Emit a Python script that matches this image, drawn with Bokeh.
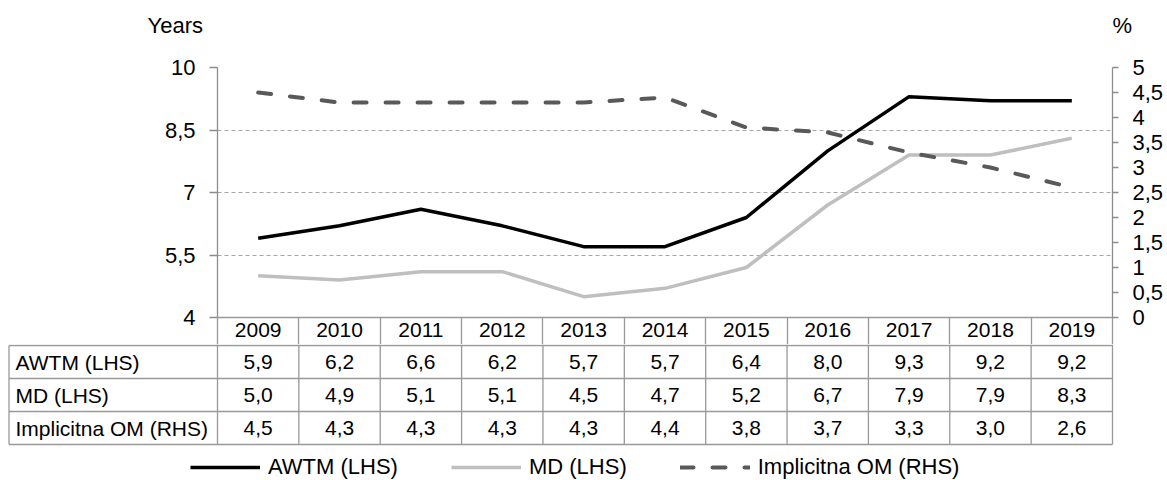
from bokeh.plotting import figure
from bokeh.models import Range1d, LinearAxis, FixedTicker, Legend, LegendItem
from bokeh.layouts import column
from bokeh.embed import file_html
from bokeh.resources import INLINE
from bokeh.core.properties import value

# ---------------- data ----------------
years = ["2009", "2010", "2011", "2012", "2013", "2014", "2015", "2016", "2017", "2018", "2019"]
awtm = [5.9, 6.2, 6.6, 6.2, 5.7, 5.7, 6.4, 8.0, 9.3, 9.2, 9.2]
md = [5.0, 4.9, 5.1, 5.1, 4.5, 4.7, 5.2, 6.7, 7.9, 7.9, 8.3]
om = [4.5, 4.3, 4.3, 4.3, 4.3, 4.4, 3.8, 3.7, 3.3, 3.0, 2.6]
series_names = ["AWTM (LHS)", "MD (LHS)", "Implicitna OM (RHS)"]
left_ticks = [4, 5.5, 7, 8.5, 10]
right_ticks = [0, 0.5, 1, 1.5, 2, 2.5, 3, 3.5, 4, 4.5, 5]
left_unit = "Years"
right_unit = "%"

# ---------------- style ----------------
FONT = "Liberation Sans"
AXIS_GRAY = "#8c8c8c"
GRID_GRAY = "#a6a6a6"
TABLE_GRAY = "#999999"
C_AWTM = "#000000"
C_MD = "#bfbfbf"
C_OM = "#595959"
OM_DASH = "13 19"
W = 1167
FRAME_L, FRAME_R = 217, 1112     # chart frame, page px


def comma(v, nd=None):
    s = f"{v:.{nd}f}" if nd is not None else f"{v:g}"
    return s.replace(".", ",")


idx = list(range(len(years)))

# ---------------- header (unit labels) ----------------
HDR_H = 53
hdr = figure(width=W, height=HDR_H, x_range=Range1d(0, W), y_range=Range1d(0, HDR_H),
             x_axis_type=None, y_axis_type=None, toolbar_location=None,
             output_backend="svg", min_border=0, outline_line_color=None, frame_align=False)
hdr.text(x=[147, FRAME_R], y=[HDR_H - 25, HDR_H - 25], text=[left_unit, right_unit],
         text_font=value(FONT), text_font_size="22px", text_baseline="middle",
         text_align="left", text_color="#000000")

# ---------------- chart ----------------
BOTTOM = 27
p1 = figure(width=W, height=291, x_range=Range1d(-0.5, len(years) - 0.5),
            y_range=Range1d(left_ticks[0], left_ticks[-1]),
            toolbar_location=None, output_backend="svg",
            min_border_left=FRAME_L, min_border_right=W - FRAME_R,
            min_border_top=14, min_border_bottom=BOTTOM,
            outline_line_color=None, frame_align=False)
p1.extra_y_ranges = {"pct": Range1d(right_ticks[0], right_ticks[-1])}

xa = p1.xaxis[0]
xa.ticker = FixedTicker(ticks=idx, minor_ticks=[i - 0.5 for i in range(len(years) + 1)])
xa.major_label_overrides = {i: y for i, y in zip(idx, years)}
xa.major_tick_out = 0
xa.major_tick_in = 0
xa.minor_tick_out = BOTTOM
xa.minor_tick_in = 0
xa.minor_tick_line_color = TABLE_GRAY
xa.minor_tick_line_width = 1.3
xa.axis_line_color = TABLE_GRAY
xa.axis_line_width = 1.3
xa.major_label_standoff = -BOTTOM + 5
xa.major_label_text_font = FONT
xa.major_label_text_font_size = "21px"
xa.major_label_text_color = "#000000"

ya = p1.yaxis[0]
ya.ticker = FixedTicker(ticks=left_ticks)
ya.major_label_overrides = {t: comma(t) for t in left_ticks}
ya.major_tick_out = 8
ya.major_tick_in = 0
ya.minor_tick_out = 0
ya.minor_tick_in = 0
ya.axis_line_color = AXIS_GRAY
ya.axis_line_width = 1.3
ya.major_tick_line_color = AXIS_GRAY
ya.major_tick_line_width = 1.3
ya.major_label_standoff = 14
ya.major_label_text_font = FONT
ya.major_label_text_font_size = "22px"
ya.major_label_text_color = "#000000"

ra = LinearAxis(y_range_name="pct", ticker=FixedTicker(ticks=right_ticks),
                major_label_standoff=14)
ra.major_label_overrides = {t: comma(t) for t in right_ticks}
ra.major_tick_out = 6
ra.major_tick_in = 0
ra.minor_tick_out = 0
ra.minor_tick_in = 0
ra.axis_line_color = AXIS_GRAY
ra.axis_line_width = 1.3
ra.major_tick_line_color = AXIS_GRAY
ra.major_tick_line_width = 1.3
ra.major_label_text_font = FONT
ra.major_label_text_font_size = "22px"
ra.major_label_text_color = "#000000"
ra.major_label_text_align = "left"
ra.major_label_text_baseline = "middle"
p1.add_layout(ra, "right")

p1.xgrid.visible = False
p1.ygrid.ticker = FixedTicker(ticks=left_ticks[1:])
p1.ygrid.grid_line_color = GRID_GRAY
p1.ygrid.grid_line_dash = "4 3"
p1.ygrid.grid_line_width = 1

p1.line(idx, md, line_color=C_MD, line_width=3.5, line_join="round")
p1.line(idx, awtm, line_color=C_AWTM, line_width=3.5, line_join="round")
p1.line(idx, om, y_range_name="pct", line_color=C_OM, line_width=4,
        line_dash=OM_DASH, line_cap="round", line_join="round")

# ---------------- table + legend ----------------
PPX = (FRAME_R - FRAME_L) / len(years)   # pixels per column
ROW = 33                                 # pixels per row
P2_H = 480 - HDR_H - 291


def xcol(page_x):
    return -0.5 + (page_x - FRAME_L) / PPX


x_start = xcol(0)
x_end = x_start + W / PPX
y_end = 1 / ROW
y_start = y_end - P2_H / ROW

p2 = figure(width=W, height=P2_H, x_range=Range1d(x_start, x_end), y_range=Range1d(y_start, y_end),
            x_axis_type=None, y_axis_type=None, toolbar_location=None,
            output_backend="svg", min_border=0, outline_line_color=None, frame_align=False)

rows = [awtm, md, om]
nrows = len(rows)
left_edge = xcol(8.5)
right_edge = len(years) - 0.5

hy = [-r for r in range(nrows + 1)]
p2.segment(x0=[left_edge] * len(hy), y0=hy, x1=[right_edge] * len(hy), y1=hy,
           line_color=TABLE_GRAY, line_width=1.3)
vx = [i - 0.5 for i in range(len(years) + 1)]
p2.segment(x0=vx, y0=[y_end] * len(vx), x1=vx, y1=[-nrows] * len(vx),
           line_color=TABLE_GRAY, line_width=1.3)
p2.segment(x0=[left_edge], y0=[0], x1=[left_edge], y1=[-nrows],
           line_color=TABLE_GRAY, line_width=1.3)

p2.text(x=[xcol(15)] * nrows, y=[-(r + 0.5) for r in range(nrows)], text=series_names,
        text_font=value(FONT), text_font_size="21px", text_baseline="middle",
        text_align="left", text_color="#000000")
cx, cy, ct = [], [], []
for r, vals in enumerate(rows):
    for i, v in enumerate(vals):
        cx.append(i)
        cy.append(-(r + 0.5))
        ct.append(comma(v, 1))
p2.text(x=cx, y=cy, text=ct, text_font=value(FONT), text_font_size="21px",
        text_baseline="middle", text_align="center", text_color="#000000")

# legend proxies: the same series, lying above this panel's visible range
g1 = p2.line(idx, awtm, line_color=C_AWTM, line_width=3.5)
g2 = p2.line(idx, md, line_color=C_MD, line_width=3.5)
g3 = p2.line(idx, om, line_color=C_OM, line_width=4, line_dash=OM_DASH, line_cap="round")
legend = Legend(items=[LegendItem(label=series_names[0], renderers=[g1]),
                       LegendItem(label=series_names[1], renderers=[g2]),
                       LegendItem(label=series_names[2], renderers=[g3])],
                orientation="horizontal", location=(190, 0),
                glyph_width=70, glyph_height=20, label_standoff=8, spacing=53,
                padding=0, margin=0, border_line_color=None, background_fill_alpha=0,
                label_text_font=FONT, label_text_font_size="22px", label_height=20,
                label_text_color="#000000")
p2.add_layout(legend)

layout = column(hdr, p1, p2, spacing=0)
open("out.html", "w").write(file_html(layout, INLINE))
